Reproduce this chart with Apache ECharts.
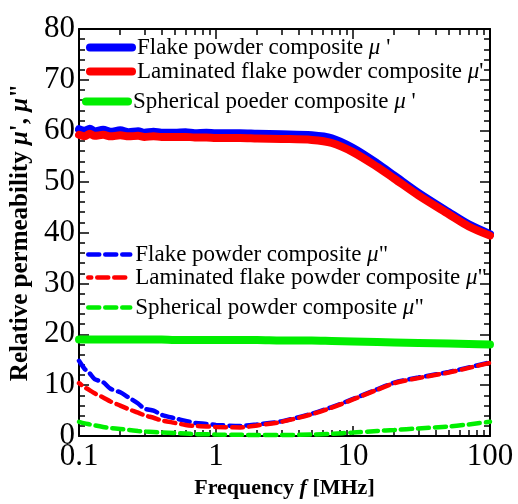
<!DOCTYPE html>
<html>
<head>
<meta charset="utf-8">
<script src="https://cdn.jsdelivr.net/npm/echarts@6/dist/echarts.min.js"></script>
<style>
  html, body { margin: 0; padding: 0; background: #fff; }
  #chart { width: 518px; height: 504px; }
</style>
</head>
<body>
<div id="chart"></div>
<script>
// frequency points, MHz
const freq = [0.1, 0.11, 0.12, 0.13, 0.15, 0.17, 0.2, 0.23, 0.27, 0.3, 0.35, 0.4, 0.5, 0.6, 0.7, 0.85,
  1, 1.5, 2, 3, 5, 7, 10, 15, 20, 30, 50, 70, 100];

// real part mu'
const flakeMu1 = [60.3, 60.0, 60.4, 59.9, 60.2, 59.8, 60.1, 59.7, 59.9, 59.6, 59.8, 59.6, 59.6, 59.7, 59.5, 59.6,
  59.5, 59.5, 59.4, 59.3, 59.1, 58.5, 56.6, 53.6, 51.2, 47.8, 44.0, 41.6, 39.7];
const laminatedMu1 = [59.2, 58.9, 59.4, 59.0, 59.2, 58.9, 59.1, 58.9, 59.0, 58.8, 58.9, 58.8, 58.8, 58.8, 58.7, 58.7,
  58.6, 58.6, 58.5, 58.4, 58.2, 57.6, 55.8, 52.9, 50.6, 47.3, 43.6, 41.2, 39.4];
const sphericalMu1 = [19.0, 19.0, 19.0, 19.0, 19.0, 19.0, 19.0, 19.0, 19.0, 19.0, 19.0, 19.0, 18.9, 18.9, 18.9, 18.9,
  18.9, 18.9, 18.9, 18.8, 18.8, 18.7, 18.6, 18.5, 18.4, 18.3, 18.2, 18.1, 18.0];

// imaginary part mu''
const flakeMu2 = [14.8, 13.2, 12.3, 11.2, 10.6, 9.3, 8.6, 7.6, 6.4, 5.4, 5.0, 4.2, 3.5, 3.0, 2.6, 2.4,
  2.2, 2.0, 2.3, 2.9, 4.4, 5.7, 7.3, 9.2, 10.5, 11.5, 12.6, 13.5, 14.5];
const laminatedMu2 = [10.4, 9.6, 9.0, 8.4, 7.6, 6.8, 6.0, 5.3, 4.6, 4.1, 3.6, 3.1, 2.6, 2.2, 2.0, 1.9,
  1.8, 1.7, 2.1, 2.8, 4.3, 5.6, 7.2, 9.1, 10.4, 11.4, 12.5, 13.4, 14.4];
const sphericalMu2 = [2.8, 2.5, 2.3, 2.1, 1.8, 1.6, 1.4, 1.2, 1.0, 0.9, 0.8, 0.7, 0.6, 0.5, 0.4, 0.35,
  0.3, 0.25, 0.2, 0.2, 0.3, 0.45, 0.7, 1.0, 1.2, 1.5, 1.9, 2.3, 2.8];

const minorFreq = [0.2, 0.3, 0.4, 0.5, 0.6, 0.7, 0.8, 0.9, 2, 3, 4, 5, 6, 7, 8, 9, 20, 30, 40, 50, 60, 70, 80, 90];
const majorFreq = [0.1, 1, 10, 100];

const names = [
  'Flake powder composite μ\'',
  'Laminated flake powder composite μ\'',
  'Spherical poeder composite μ\'',
  'Flake powder composite μ"',
  'Laminated flake powder composite μ"',
  'Spherical powder composite μ"'
];
const labels = [
  '{t|Flake powder composite }{m|μ}{t| \'}',
  '{t|Laminated flake powder composite }{m|μ}{t|\'}',
  '{t|Spherical poeder composite }{m|μ}{t| \'}',
  '{t|Flake powder composite }{m|μ}{t|"}',
  '{t|Laminated flake powder composite }{m|μ}{t|"}',
  '{t|Spherical powder composite }{m|μ}{t|"}'
];
const colors = ['#0000ff', '#ff0000', '#00ee00', '#0000ff', '#ff0000', '#00ee00'];
const values = [flakeMu1, laminatedMu1, sphericalMu1, flakeMu2, laminatedMu2, sphericalMu2];

const serif = 'Liberation Serif';
const legendFont = 23;
const chart = echarts.init(document.getElementById('chart'));

const legendTops = [36, 60, 90, 243, 266, 296];
const legendLefts = [86, 86, 82, 86, 86, 86];

const legends = names.map((n, i) => ({
  data: [n],
  left: legendLefts[i],
  top: legendTops[i],
  padding: 0,
  selectedMode: false,
  itemWidth: 42,
  itemHeight: 8,
  itemStyle: { opacity: 0 },
  lineStyle: i < 3 ? { width: 8, cap: 'round' } : { width: 4.5, type: [11, 6], cap: 'round' },
  formatter: () => labels[i],
  textStyle: {
    fontFamily: serif, fontSize: legendFont, color: '#000',
    rich: {
      t: { fontFamily: serif, fontSize: legendFont, color: '#000' },
      m: { fontFamily: serif, fontSize: legendFont, fontStyle: 'italic', color: '#000' }
    }
  }
}));

const series = names.map((n, i) => ({
  name: n,
  type: 'line',
  symbol: 'none',
  smooth: 0.3,
  data: freq.map((f, k) => [f, values[i][k]]),
  itemStyle: { color: colors[i] },
  lineStyle: i < 3
    ? { width: 8, color: colors[i], cap: 'round', join: 'round' }
    : { width: 4.5, color: colors[i], type: [11, 6], dashOffset: i === 4 ? 8 : 0, cap: 'round' },
  z: i < 3 ? 3 : 2,
  animation: false
}));

const axisLine = { show: true, lineStyle: { color: '#000', width: 2 } };
const titleStyle = size => ({
  fontFamily: serif, fontSize: size, fontWeight: 'bold', color: '#000',
  rich: {
    t: { fontFamily: serif, fontSize: size, fontWeight: 'bold', color: '#000' },
    i: { fontFamily: serif, fontSize: size, fontWeight: 'bold', fontStyle: 'italic', color: '#000' }
  }
});

chart.setOption({
  animation: false,
  grid: { left: 78, right: 28, top: 29, bottom: 62 },
  legend: legends,
  xAxis: [
    {
      type: 'log', min: 0.1, max: 100, logBase: 10, position: 'bottom',
      axisLine: axisLine,
      axisTick: { inside: true, length: 10, lineStyle: { color: '#000', width: 1.5 }, customValues: majorFreq },
      axisLabel: { fontFamily: serif, fontSize: 31, color: '#000', margin: 5, customValues: majorFreq,
        formatter: v => String(v) },
      splitLine: { show: false },
      name: '{t|Frequency }{i|f}{t| [MHz]}',
      nameLocation: 'middle',
      nameGap: 39,
      nameTextStyle: titleStyle(22)
    },
    {
      type: 'log', min: 0.1, max: 100, position: 'bottom',
      axisLine: { show: false },
      axisTick: { inside: true, length: 6, lineStyle: { color: '#000', width: 1.5 }, customValues: minorFreq },
      axisLabel: { show: false },
      splitLine: { show: false }
    },
    {
      type: 'log', min: 0.1, max: 100, position: 'top',
      axisLine: axisLine,
      axisTick: { inside: true, length: 10, lineStyle: { color: '#000', width: 1.5 }, customValues: majorFreq },
      axisLabel: { show: false },
      splitLine: { show: false }
    },
    {
      type: 'log', min: 0.1, max: 100, position: 'top',
      axisLine: { show: false },
      axisTick: { inside: true, length: 6, lineStyle: { color: '#000', width: 1.5 }, customValues: minorFreq },
      axisLabel: { show: false },
      splitLine: { show: false }
    }
  ],
  yAxis: [
    {
      type: 'value', min: 0, max: 80, interval: 10, position: 'left',
      axisLine: axisLine,
      axisTick: { inside: true, length: 10, lineStyle: { color: '#000', width: 1.5 } },
      minorTick: { show: true, splitNumber: 5, length: 6, lineStyle: { color: '#000', width: 1.5 } },
      axisLabel: { fontFamily: serif, fontSize: 31, color: '#000', margin: 4 },
      splitLine: { show: false },
      name: '{t|Relative permeability }{i|μ}{t|\', }{i|μ}{t|"}',
      nameLocation: 'middle',
      nameGap: 46,
      nameRotate: 90,
      nameTextStyle: titleStyle(25)
    },
    {
      type: 'value', min: 0, max: 80, interval: 10, position: 'right',
      axisLine: axisLine,
      axisTick: { inside: true, length: 10, lineStyle: { color: '#000', width: 1.5 } },
      minorTick: { show: true, splitNumber: 5, length: 6, lineStyle: { color: '#000', width: 1.5 } },
      axisLabel: { show: false },
      splitLine: { show: false }
    }
  ],
  series: series
});
</script>
</body>
</html>
